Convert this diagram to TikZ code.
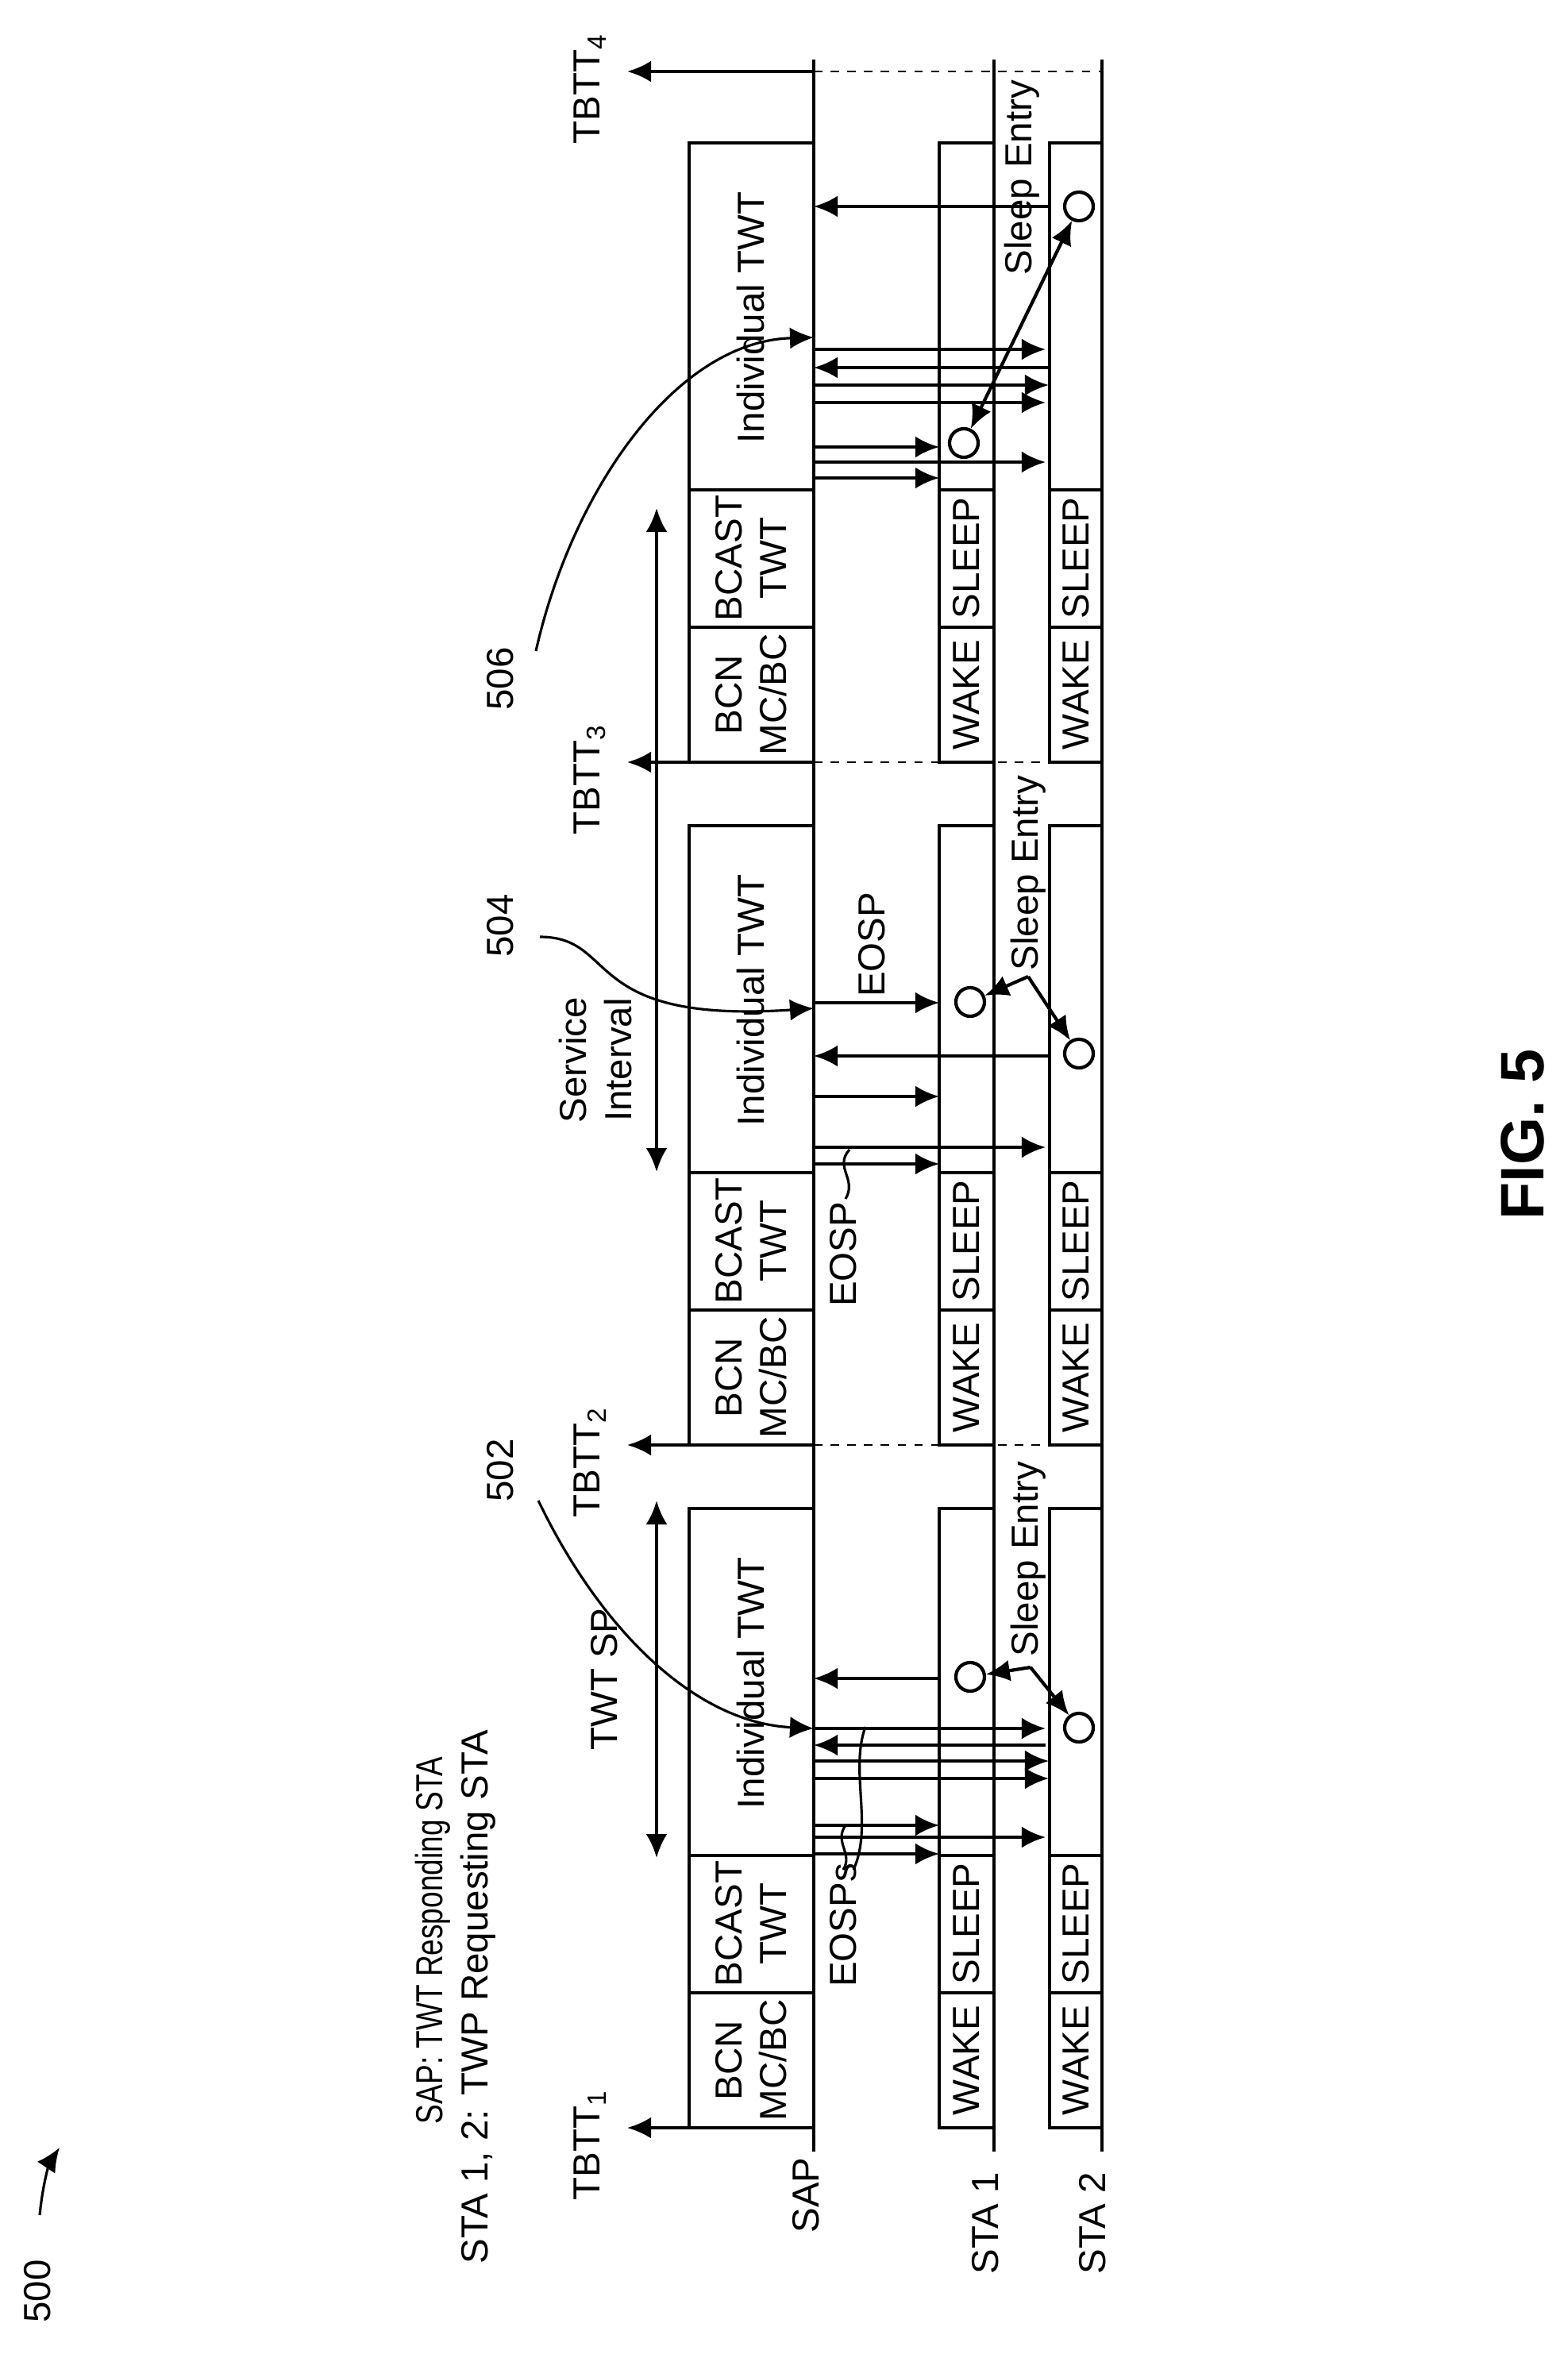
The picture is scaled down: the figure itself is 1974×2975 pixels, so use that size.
\documentclass[tikz,border=0pt]{standalone}
\usepackage{fontspec}
\setmainfont{Liberation Sans}
\usetikzlibrary{arrows.meta}
\tikzset{
  lbl/.style={rotate=90,font=\fontsize{13.5}{16}\selectfont,align=center,inner sep=1pt},
  msg/.style={-{Latex[length=3mm,width=2.7mm]}},
  bimsg/.style={{Latex[length=3mm,width=2.7mm]}-{Latex[length=3mm,width=2.7mm]}},
  dot/.style={circle,draw,minimum size=0.36cm,inner sep=0pt},
  tick/.style={dashed,line width=0.6pt}
}
\begin{document}
\begin{tikzpicture}[x=0.01cm,y=-0.01cm,line width=1.2pt]
\useasboundingbox (0,0) rectangle (1974,2975);

% life lines
\draw (1025,75) -- (1025,2710);
\draw (1252,75) -- (1252,2710);
\draw (1388,75) -- (1388,2710);
\node[lbl] (sap) at (1015,2765) {SAP};
\node[lbl] (sta1) at (1241,2800) {STA 1};
\node[lbl] (sta2) at (1376,2800) {STA 2};

% beacon periods
\foreach \t/\n in {2680/1,1820/2,960/3}{
  \draw (868,\t) rectangle (1025,\t-780);
  \draw (868,\t-170) -- (1025,\t-170);
  \draw (868,\t-343) -- (1025,\t-343);
  \node[lbl] at (946,\t-85) {BCN\\MC/BC};
  \node[lbl] at (946,\t-257) {BCAST\\TWT};
  \node[lbl] at (946,\t-560) {Individual TWT};
  \draw (1183,\t) rectangle (1252,\t-780);
  \draw (1183,\t-170) -- (1252,\t-170);
  \draw (1183,\t-343) -- (1252,\t-343);
  \node[lbl] at (1217,\t-85) {WAKE};
  \node[lbl] at (1217,\t-257) {SLEEP};
  \draw (1322,\t) rectangle (1388,\t-780);
  \draw (1322,\t-170) -- (1388,\t-170);
  \draw (1322,\t-343) -- (1388,\t-343);
  \node[lbl] at (1355,\t-85) {WAKE};
  \node[lbl] at (1355,\t-257) {SLEEP};
  \draw[msg] (1025,\t) -- (790,\t);
  \node[lbl] at (743,\t+22) {TBTT\textsubscript{\n}};
}
\draw[msg] (1025,90) -- (790,90);
\node[lbl] (tbtt4) at (743,112) {TBTT\textsubscript{4}};
\foreach \t in {1820,960,90}
  \draw[tick] (1025,\t) -- (1388,\t);

% period 1
\draw[msg] (1183,2114) -- (1025,2114);
\draw[msg] (1025,2177) -- (1317,2177);
\draw[msg] (1317,2198) -- (1025,2198);
\draw[msg] (1025,2218) -- (1321,2218);
\draw[msg] (1025,2240) -- (1321,2240);
\draw[msg] (1025,2299) -- (1183,2299);
\draw[msg] (1025,2314) -- (1317,2314);
\draw[msg] (1025,2335) -- (1183,2335);
\node[dot] (c11) at (1222,2112) {};
\node[dot] (c12) at (1359,2176) {};
\coordinate (k1) at (1298,2100);
\draw[msg] (k1) -- (c11);
\draw[msg] (k1) -- (c12);
\node[lbl,anchor=west] (se1) at (1295,2092) {Sleep Entry};

% period 2
\draw[msg] (1025,1263) -- (1183,1263);
\draw[msg] (1321,1330) -- (1025,1330);
\draw[msg] (1025,1381) -- (1183,1381);
\draw[msg] (1025,1445) -- (1317,1445);
\draw[msg] (1025,1466) -- (1183,1466);
\node[dot] (c21) at (1222,1262) {};
\node[dot] (c22) at (1359,1327) {};
\coordinate (k2) at (1295,1230);
\draw[msg] (k2) -- (c21);
\draw[msg] (k2) -- (c22);
\node[lbl,anchor=west] (se2) at (1295,1228) {Sleep Entry};
\node[lbl] (eosp2) at (1098,1190) {EOSP};

% period 3
\draw[msg] (1321,260) -- (1025,260);
\draw[msg] (1025,440) -- (1317,440);
\draw[msg] (1321,463) -- (1025,463);
\draw[msg] (1025,485) -- (1321,485);
\draw[msg] (1025,507) -- (1317,507);
\draw[msg] (1025,563) -- (1183,563);
\draw[msg] (1025,582) -- (1317,582);
\draw[msg] (1025,602) -- (1183,602);
\node[dot] (c31) at (1214,558) {};
\node[dot] (c32) at (1359,260) {};
\draw[bimsg] (c31) -- (c32);
\node[lbl,anchor=west] (se3) at (1287,352) {Sleep Entry};

% spans
\draw[bimsg] (827,1890) -- (827,2340);
\node[lbl] (twtsp) at (761,2115) {TWT SP};
\draw[bimsg] (827,640) -- (827,1476);
\node[lbl] (si) at (750,1335) {Service\\Interval};

% EOSP labels
\node[lbl] (eosps) at (1062,2425) {EOSPs};
\draw[line width=0.9pt] (1075,2355) .. controls (1100,2300) and (1070,2230) .. (1090,2175);
\draw[line width=0.9pt] (1062,2355) .. controls (1075,2335) and (1050,2320) .. (1065,2299);
\node[lbl] (eosp1) at (1062,1580) {EOSP};
\draw[line width=0.9pt] (1065,1510) .. controls (1080,1485) and (1050,1470) .. (1070,1448);

% callouts
\node[lbl] (n502) at (630,1852) {502};
\draw[msg,line width=0.9pt] (678,1890) .. controls (760,2060) and (880,2170) .. (1025,2177);
\node[lbl] (n504) at (630,1166) {504};
\draw[msg,line width=0.9pt] (680,1180) .. controls (780,1180) and (730,1290) .. (1025,1270);
\node[lbl] (n506) at (630,855) {506};
\draw[msg,line width=0.9pt] (675,820) .. controls (720,620) and (850,430) .. (1025,425);

% legend
\node[lbl,anchor=east] (leg1) at (545,2207) {\scalebox{0.78}[1]{SAP: TWT Responding STA}};
\node[lbl,anchor=east] (leg2) at (602,2173) {STA 1, 2: TWP Requesting STA};
\node[lbl] (n500) at (47,2886) {500};
\draw[msg,line width=0.9pt] (50,2790) .. controls (55,2740) and (65,2720) .. (75,2705);
\node[rotate=90,font=\fontsize{22}{26}\selectfont\bfseries] (fig) at (1918,1429) {FIG. 5};
\end{tikzpicture}
\end{document}
